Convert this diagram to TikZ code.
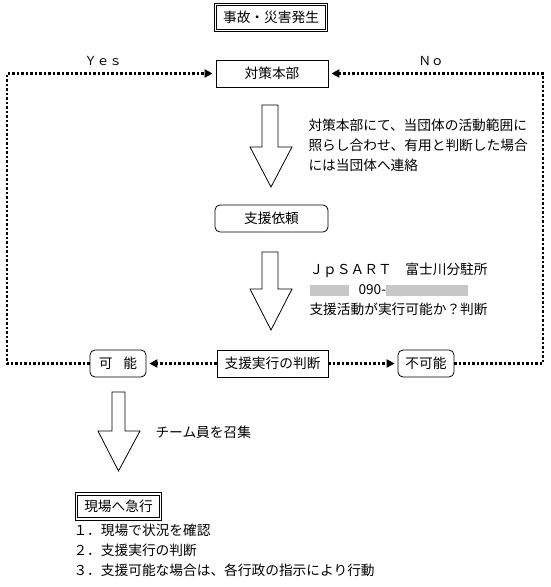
\documentclass[tikz,border=0pt]{standalone}
\usepackage{fontspec}
\setmainfont{Noto Sans CJK JP}
\usetikzlibrary{arrows.meta}
\newcommand\blurbox[1]{\textcolor{black!22}{\rule[-1.5pt]{#1}{11pt}}}

\begin{document}
\begin{tikzpicture}[x=1pt,y=-1pt,
	jp/.style = {font=\fontsize{13.7}{20}\selectfont},
	box/.style = {draw, jp, line width=0.8pt, minimum height=27pt, inner sep=0pt},
	roundbox/.style = {box, rounded corners=5pt},
	dblbox/.style = {box, draw=black, double=white, double distance=1.8pt, line width=0.9pt},
	dots/.style = {line width=2.3pt, dash pattern=on 2.3pt off 2.2pt, shorten >=3pt, -{Triangle[length=8pt,width=8pt]}},
	bigarrow/.style = {draw, line width=0.8pt}]
	\useasboundingbox (0,0) rectangle (550,587);
	% boxes
	\node[dblbox, minimum width=111pt, minimum height=26pt] (hassei) at (271,17.5) {事故・災害発生};
	\node[box, minimum width=112pt] (honbu) at (272,73.5) {対策本部};
	\node[roundbox, minimum width=113pt] (irai) at (271.5,218.5) {支援依頼};
	\node[box, minimum width=111pt] (handan) at (272.5,363.5) {支援実行の判断};
	\node[roundbox, minimum width=56pt] (kanou) at (118,363.5) {可\hspace{0.8em}能};
	\node[roundbox, minimum width=56pt] (fukanou) at (426,363.5) {不可能};
	\node[dblbox, minimum width=84pt, minimum height=25pt] (kyuukou) at (118.5,506.5) {現場へ急行};
	% corners of the loops
	\coordinate (cornerL) at (7,73.5);
	\coordinate (cornerR) at (543,73.5);
	% dotted connectors
	\draw[dots] (kanou.west) -| (cornerL) -- (honbu.west);
	\draw[dots] (fukanou.east) -| (cornerR) -- (honbu.east);
	\draw[dots] (handan.west) -- (kanou.east);
	\draw[dots] (handan.east) -- (fukanou.west);
	\node[jp, font=\fontsize{12.5}{14}\selectfont] (yes) at (103,61) {Ｙｅｓ};
	\node[jp, font=\fontsize{12.5}{14}\selectfont] (no) at (431,61) {Ｎｏ};
	% hollow arrows
	\draw[bigarrow] (262,105) -- (278,105) -- (278,147) -- (292,147) -- (271,187) -- (250,147) -- (262,147) -- cycle;
	\draw[bigarrow] (262,252) -- (278,252) -- (278,289) -- (292,289) -- (271,330) -- (250,289) -- (262,289) -- cycle;
	\draw[bigarrow] (112,392) -- (125,392) -- (125,431) -- (140,431) -- (118.5,471) -- (98,431) -- (112,431) -- cycle;
	% notes
	\node[jp, align=left, anchor=west] (note1) at (305,145) {対策本部にて、当団体の活動範囲に\\照らし合わせ、有用と判断した場合\\には当団体へ連絡};
	\node[jp, align=left, anchor=west] (note2) at (306,289.5) {ＪｐＳＡＲＴ　富士川分駐所\\\blurbox{39pt}\hspace{10pt}090-\blurbox{82pt}\\支援活動が実行可能か？判断};
	\node[jp, anchor=west] (note3) at (152,432) {チーム員を召集};
	\node[jp, align=left, anchor=north west] (todo) at (70,520) {１．現場で状況を確認\\２．支援実行の判断\\３．支援可能な場合は、各行政の指示により行動};
\end{tikzpicture}
\end{document}
